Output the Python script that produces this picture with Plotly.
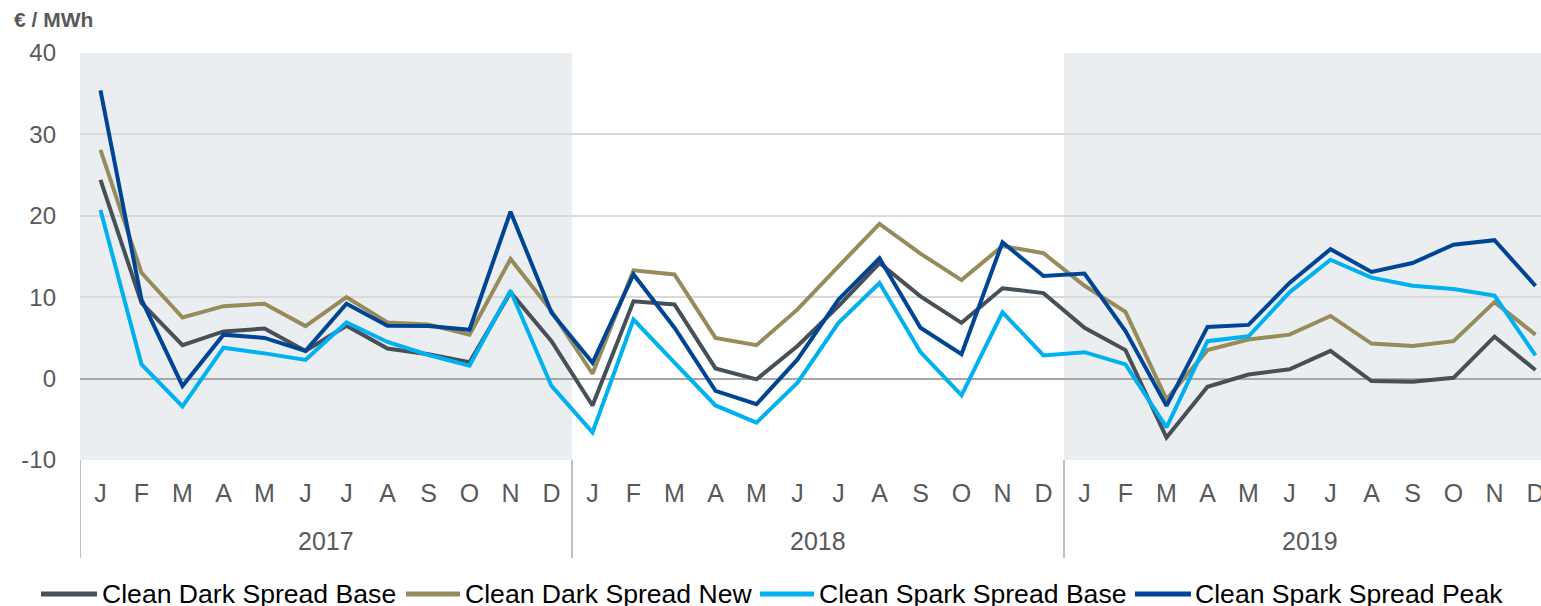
import plotly.graph_objects as go

# ---------------- data ----------------
months = ["J", "F", "M", "A", "M", "J", "J", "A", "S", "O", "N", "D"]
years = ["2017", "2018", "2019"]
month_labels = months * 3

series_names = [
    "Clean Dark Spread Base",
    "Clean Dark Spread New",
    "Clean Spark Spread Base",
    "Clean Spark Spread Peak",
]

clean_dark_base = [
    24.4, 9.3, 4.1, 5.8, 6.15, 3.4, 6.5, 3.7, 3.0, 2.0, 10.6, 4.6,
    -3.3, 9.5, 9.1, 1.25, -0.1, 4.0, 8.9, 14.2, 10.1, 6.85, 11.1, 10.5,
    6.25, 3.5, -7.25, -1.0, 0.5, 1.15, 3.4, -0.3, -0.4, 0.1, 5.15, 1.05,
]
clean_dark_new = [
    28.1, 13.0, 7.5, 8.9, 9.2, 6.45, 10.0, 6.9, 6.65, 5.4, 14.7, 8.3,
    0.6, 13.3, 12.8, 5.0, 4.1, 8.5, 13.8, 19.0, 15.35, 12.1, 16.3, 15.4,
    11.4, 8.2, -2.55, 3.5, 4.8, 5.4, 7.7, 4.3, 4.0, 4.6, 9.4, 5.4,
]
clean_spark_base = [
    20.7, 1.75, -3.4, 3.8, 3.1, 2.3, 6.9, 4.5, 2.9, 1.6, 10.8, -0.9,
    -6.6, 7.25, 1.95, -3.3, -5.4, -0.5, 6.85, 11.75, 3.25, -2.05, 8.15, 2.85,
    3.25, 1.75, -6.0, 4.6, 5.2, 10.6, 14.6, 12.4, 11.4, 11.0, 10.2, 2.85,
]
clean_spark_peak = [
    35.4, 9.7, -0.9, 5.4, 5.0, 3.4, 9.2, 6.5, 6.45, 6.0, 20.5, 8.1,
    1.95, 12.8, 6.25, -1.5, -3.15, 2.35, 9.7, 14.8, 6.25, 3.0, 16.75, 12.6,
    12.9, 5.85, -3.35, 6.35, 6.6, 11.75, 15.9, 13.1, 14.2, 16.45, 17.0, 11.4,
]

y_ticks = [-10, 0, 10, 20, 30, 40]
y_tick_labels = ["-10", "0", "10", "20", "30", "40"]

# ---------------- styles ----------------
colors = ["#475056", "#968c5b", "#00b0f0", "#004595"]
FONT = "Liberation Sans, Arial, sans-serif"
TXT = "#595959"
W, H = 1541, 606
L, R, T, B = 80, 0, 53, 146
PW, PH = W - L - R, H - T - B


def px_x(p):
    return (p - L) / PW


def px_y(p):
    return (H - B - p) / PH


x_idx = list(range(len(month_labels)))
data_series = [clean_dark_base, clean_dark_new, clean_spark_base, clean_spark_peak]

fig = go.Figure()
for name, vals, col in zip(series_names, data_series, colors):
    fig.add_trace(go.Scatter(
        x=x_idx, y=vals, mode="lines", name=name,
        line=dict(color=col, width=4), showlegend=False,
    ))

shapes = []
# shaded year bands (2017 and 2019)
for x0, x1 in [(-0.5, 11.5), (23.5, 36)]:
    shapes.append(dict(type="rect", xref="x", yref="y", x0=x0, x1=x1, y0=-10, y1=40,
                       fillcolor="#ebeef1", line=dict(width=0), layer="below"))
# year separators below the axis
for xs in [-0.5, 11.5, 23.5]:
    shapes.append(dict(type="line", xref="x", yref="paper", x0=xs, x1=xs,
                       y0=0, y1=px_y(558), line=dict(color="#bfbfbf", width=2)))

annotations = []
for i, yr in enumerate(years):
    annotations.append(dict(x=i * 12 + 5.5, xref="x", y=px_y(541), yref="paper",
                            text=yr, showarrow=False, xanchor="center", yanchor="middle",
                            font=dict(family=FONT, size=25, color=TXT)))
annotations.append(dict(x=px_x(12), xref="paper", y=px_y(19), yref="paper",
                        text="<b>€ / MWh</b>", showarrow=False, xanchor="left",
                        yanchor="middle", font=dict(family=FONT, size=21, color=TXT)))

# manual legend
leg_lines = [(41, 97, 100), (406, 460, 463), (760, 814, 817), (1135, 1191, 1193)]
for (a, b, t), name, col in zip(leg_lines, series_names, colors):
    shapes.append(dict(type="line", xref="paper", yref="paper",
                       x0=px_x(a), x1=px_x(b), y0=px_y(594), y1=px_y(594),
                       line=dict(color=col, width=5)))
    annotations.append(dict(x=px_x(t), xref="paper", y=px_y(594), yref="paper",
                            text=name, showarrow=False, xanchor="left", yanchor="middle",
                            font=dict(family=FONT, size=26.6, color="#000000")))

fig.update_layout(
    width=W, height=H,
    margin=dict(l=L, r=R, t=T, b=B, pad=0),
    paper_bgcolor="white", plot_bgcolor="white",
    shapes=shapes, annotations=annotations,
    font=dict(family=FONT, color=TXT),
)
fig.update_xaxes(
    range=[-0.5, -0.5 + PW / 41.0],
    tickmode="array", tickvals=x_idx, ticktext=month_labels,
    tickfont=dict(family=FONT, size=25, color=TXT),
    showgrid=False, zeroline=False, showline=False, ticks="",
    ticklabelstandoff=16, ticklabeloverflow="allow", automargin=False,
)
fig.update_yaxes(
    range=[-10, 40], tickmode="array", tickvals=y_ticks, ticktext=y_tick_labels,
    tickfont=dict(family=FONT, size=24, color=TXT),
    showgrid=True, gridcolor="#d9d9d9", gridwidth=2,
    zeroline=True, zerolinecolor="#a6a6a6", zerolinewidth=2,
    showline=False, ticks="", ticklabelstandoff=23, automargin=False,
)

fig.write_html(
    "out.html",
    config={"displayModeBar": False},
    post_script="document.body.style.margin='0';document.body.style.overflow='hidden';",
)
